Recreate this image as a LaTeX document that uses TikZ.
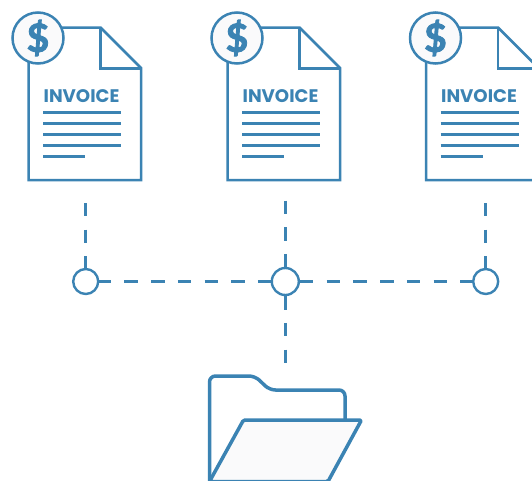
\documentclass[tikz,border=0pt]{standalone}
\usepackage{fontspec}
\usepackage{xcolor}
\usepackage{tikz}
\setmainfont{Poppins}
\newfontfamily\coinfont[BoldFeatures={FakeBold=2.2}]{Lato}
\usetikzlibrary{positioning}
\definecolor{invblue}{HTML}{3B83B3}
\definecolor{invpaper}{HTML}{FAFAFB}
\tikzset{
	junction/.style={circle,draw=invblue,line width=2.4pt,fill=white,inner sep=0pt,minimum size=#1},
	link/.style={invblue,line width=2.7pt,dash pattern=on 13.4pt off 13.3pt},
	textline/.style={invblue,line width=3pt},
}
\begin{document}
\begin{tikzpicture}[x=1pt,y=-1pt]
		\useasboundingbox (0,0) rectangle (532,480);
		% the three invoices
		\foreach \n/\dx in {1/0,2/199,3/397.5}{
			\begin{scope}[xshift=\dx pt]
				\draw[invblue,line width=2.5pt,fill=white,line join=miter] (28.5,38)--(28.5,180)--(141,180)--(141,68)--(100.5,27.5)--(38,27.5);
				\draw[invblue,line width=2.5pt] (100.5,27.5)--(100.5,68.5)--(141,68.5);
				\node[circle,draw=invblue,line width=2.5pt,fill=invpaper,minimum size=51pt,inner sep=0pt,text=invblue,font=\fontsize{39}{39}\selectfont\coinfont\bfseries] (coin\n) at (38,38) {\$};
				\node[text=invblue,inner sep=0pt,font=\fontsize{18.2}{18.2}\selectfont\bfseries] (title\n) at (81.5,96) {INVOICE};
				\draw[textline] (43,112.5)--(121,112.5);
				\draw[textline] (43,123.5)--(121,123.5);
				\draw[textline] (43,134.5)--(121,134.5);
				\draw[textline] (43,145.5)--(121,145.5);
				\draw[textline] (43,156.5)--(85,156.5);
			\end{scope}
		}
		% junctions
		\node[junction=25pt] (c1) at (85.7,281.5) {};
		\node[junction=27pt] (c2) at (285.3,281.5) {};
		\node[junction=25pt] (c3) at (485.7,281.5) {};
		\coordinate (top1) at (85.7,203);
		\coordinate (top2) at (285.3,200.5);
		\coordinate (top3) at (485.7,203);
		\coordinate (bottom) at (285.3,363);
		\draw[link] (top1)--(c1);
		\draw[link] (top2)--(c2);
		\draw[link] (top3)--(c3);
		\draw[link] (c2)--(bottom);
		\draw[link,dash phase=1.7pt] (c1)--(c2);
		\draw[link] (c2)--(c3);
		% folder
		\draw[invblue,line width=3.5pt,rounded corners=6pt] (209.5,483)--(209.5,376)--(255,376)--(269.5,390)--(345,390)--(345,425);
		\draw[invblue,line width=3.5pt,fill=invpaper,line join=round,rounded corners=1.5pt] (209.5,481.5)--(243.5,420)--(361.5,420)--(328,481.5)--cycle;
	\end{tikzpicture}
\end{document}
